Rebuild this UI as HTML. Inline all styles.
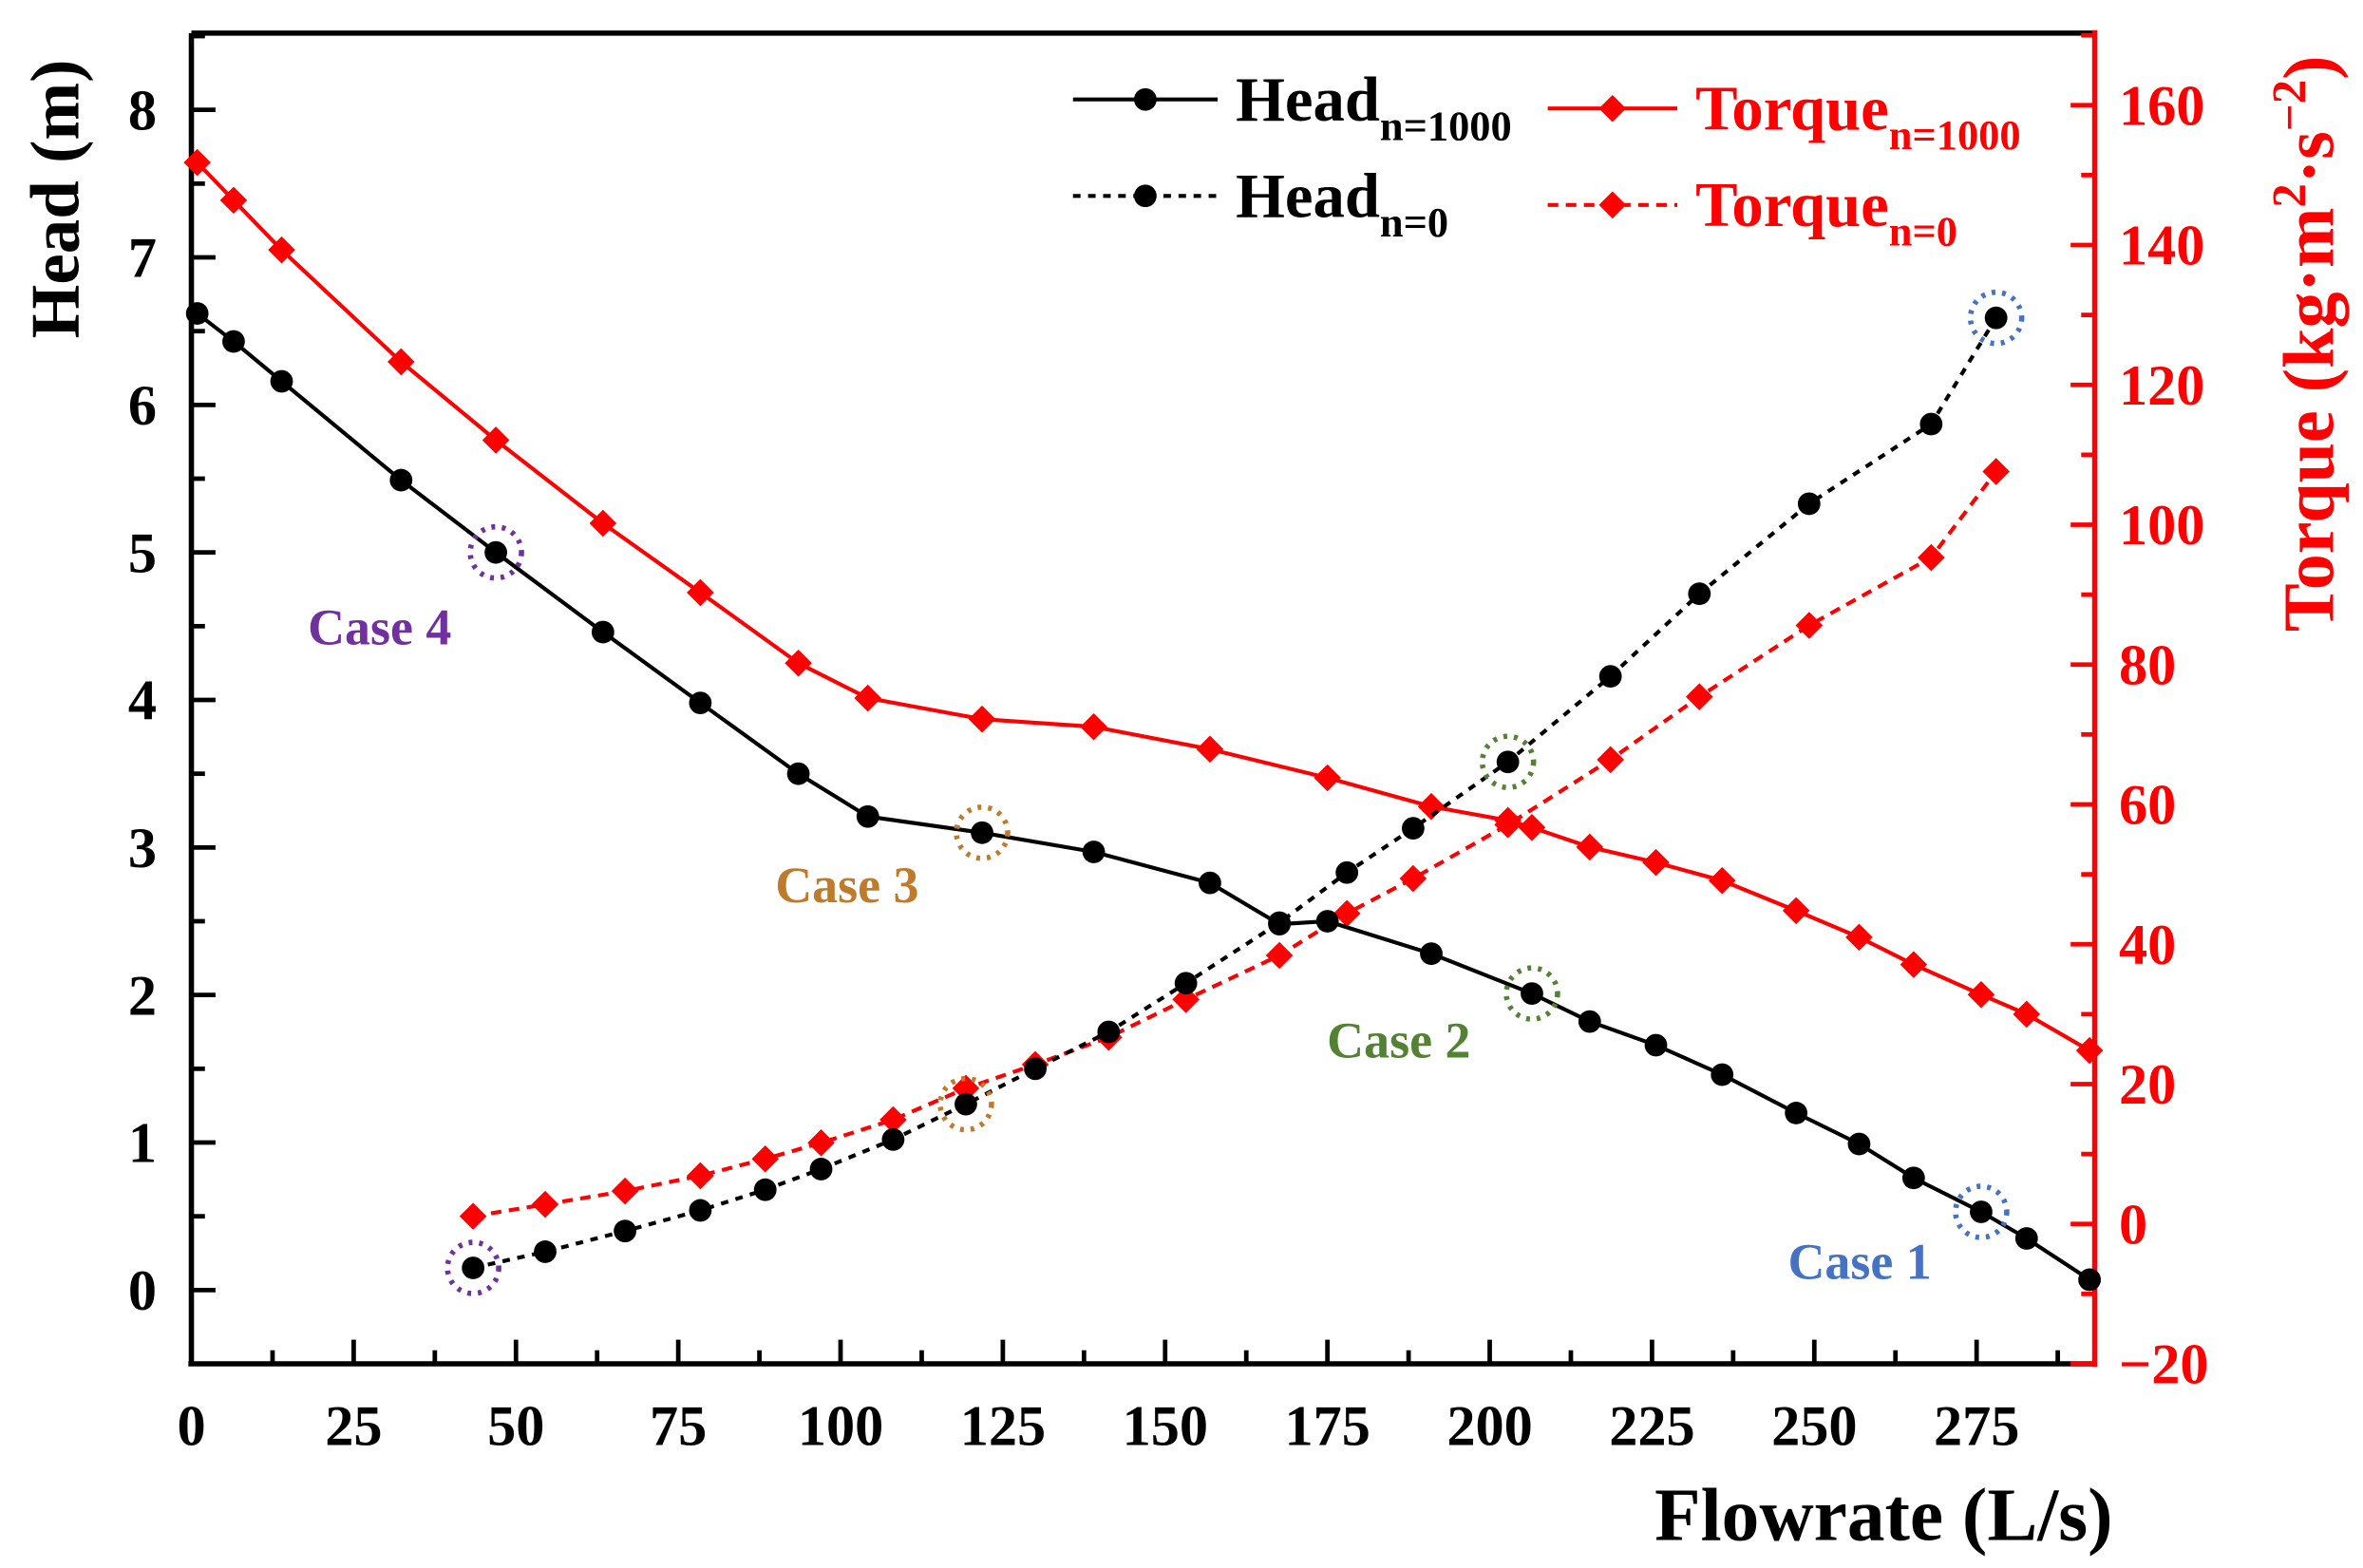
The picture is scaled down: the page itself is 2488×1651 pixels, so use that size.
<!DOCTYPE html>
<html><head><meta charset="utf-8"><style>
html,body{margin:0;padding:0;background:#fff;}
svg{display:block;font-family:"Liberation Serif",serif;font-weight:bold;}
</style></head><body>
<svg id="chart" xmlns="http://www.w3.org/2000/svg" width="2488" height="1651" viewBox="0 0 1568 1040.5">
<rect width="1568" height="1040.5" fill="#fff"/>
<g id="plot"></g>
</svg>
<script>
const headFlow1000 = [0.9,6.5,13.9,32.3,46.9,63.4,78.4,93.5,104.2,121.8,139.0,156.9,167.6,175.0,191.0,206.5,215.4,225.6,235.8,247.2,256.9,265.3,275.7,282.7,292.4];
const head1000 = [6.62,6.43,6.16,5.49,5.00,4.46,3.98,3.50,3.21,3.10,2.97,2.76,2.48,2.50,2.28,2.01,1.82,1.66,1.46,1.20,0.99,0.76,0.53,0.35,0.07];
const headFlow0 = [43.4,54.5,66.8,78.4,88.4,97.0,108.1,119.3,130.0,141.3,153.2,167.6,178.0,188.2,202.8,218.6,232.3,249.2,268.0,278.0];
const head0 = [0.15,0.26,0.40,0.54,0.68,0.82,1.02,1.26,1.50,1.75,2.08,2.49,2.83,3.13,3.58,4.16,4.72,5.33,5.87,6.59];
const torqueFlow1000 = [0.9,6.5,13.9,32.3,46.9,63.4,78.4,93.5,104.2,121.8,139.0,156.9,175.0,191.0,202.8,206.5,215.4,225.6,235.8,247.2,256.9,265.3,275.7,282.7,292.4];
const torque1000 = [151.8,146.4,139.3,123.3,112.1,100.2,90.3,80.2,75.2,72.2,71.1,67.9,63.8,59.7,57.7,56.7,53.9,51.7,49.1,44.8,41.0,37.1,32.8,30.0,24.8];
const torqueFlow0 = headFlow0;
const torque0 = [1.1,2.8,4.7,6.9,9.3,11.6,14.9,19.4,22.8,26.7,32.1,38.4,44.4,49.4,57.1,66.4,75.4,85.6,95.3,107.6];
const xTicks = [0,25,50,75,100,125,150,175,200,225,250,275];
const headTicks = [0,1,2,3,4,5,6,7,8];
const torqueTicks = [-20,0,20,40,60,80,100,120,140,160];
const caseLabels = ["Case 1","Case 2","Case 3","Case 4"];
const caseFlows = [[278.0,275.7],[202.8,206.5],[121.8,119.3],[46.9,43.4]];
const caseHeads = [[6.59,0.53],[3.58,2.01],[3.10,1.26],[5.00,0.15]];
const caseLabelPos = [[257,0.2],[186,1.7],[101,2.75],[29,4.5]];
const caseColors = ["#4472c4","#548235","#c07a2c","#7030a0"];

const L=127,R=1390,T=22,B=905;
const xMin=0,xMax=293.2;
const sx=v=>L+(v-xMin)/(xMax-xMin)*(R-L);
const yHmin=-0.5,yHmax=8.52;
const sh=v=>B-(v-yHmin)/(yHmax-yHmin)*(B-T);
const yTmin=-20,yTmax=170.3;
const st=v=>B-(v-yTmin)/(yTmax-yTmin)*(B-T);

const NS="http://www.w3.org/2000/svg";
const g=document.getElementById('plot');
function el(tag,attrs,parent){const e=document.createElementNS(NS,tag);for(const k in attrs)e.setAttribute(k,attrs[k]);(parent||g).appendChild(e);return e;}

let a;
a=el('line',{x1:L,y1:T,x2:R,y2:T,stroke:'#000','stroke-width':3.5});


a=el('line',{x1:L,y1:T,x2:L,y2:B,stroke:'#000','stroke-width':3.5});


a=el('line',{x1:L-2,y1:B,x2:R,y2:B,stroke:'#000','stroke-width':3.5});


a=el('line',{x1:R,y1:T-2,x2:R,y2:B+2,stroke:'#f00','stroke-width':3.5});



for(let v=0;v<=xMax;v+=12.5){const maj=v%25===0;const t=el('line',{x1:sx(v),x2:sx(v),y1:B,y2:B-(maj?16:9),stroke:'#000','stroke-width':3});

}
xTicks.forEach(v=>{const t=el('text',{x:sx(v),y:B+54,'text-anchor':'middle','font-size':38,fill:'#000'});t.textContent=v;

});
for(let v=-0.5;v<=8.5;v+=0.5){const maj=Math.abs(v-Math.round(v))<1e-6;const t=el('line',{x1:L,x2:L+(maj?16:9),y1:sh(v),y2:sh(v),stroke:'#000','stroke-width':3});

}
headTicks.forEach(v=>{const t=el('text',{x:104,y:sh(v)+13,'text-anchor':'end','font-size':38,fill:'#000'});t.textContent=v;

});
for(let v=-20;v<=170;v+=10){const maj=v%20===0;const t=el('line',{x1:R,x2:R-(maj?16:9),y1:st(v),y2:st(v),stroke:'#f00','stroke-width':3});

}
torqueTicks.forEach(v=>{const t=el('text',{x:1406,y:st(v)+13,'text-anchor':'start','font-size':38,fill:'#f00'});t.textContent=(v<0?'\u221220':v);

});

a=el('text',{x:0,y:0,'font-size':46,fill:'#000','text-anchor':'middle',transform:'translate(52,132) rotate(-90)'});a.textContent='Head (m)';


a=el('text',{x:0,y:0,'font-size':48,fill:'#f00','text-anchor':'middle',transform:'translate(1548,228) rotate(-90)'});
a.innerHTML='Torque (kg·m<tspan dy="-18" font-size="32">2</tspan><tspan dy="18">·s</tspan><tspan dy="-18" font-size="32">−2</tspan><tspan dy="18">)</tspan>';


a=el('text',{x:1402,y:1022,'font-size':50,fill:'#000','text-anchor':'end'});a.textContent='Flowrate (L/s)';



function pts(xs,ys,sy){return xs.map((x,i)=>sx(x)+','+sy(ys[i])).join(' ');}
function series(xs,ys,sy,color,dash,marker,name){
  const p=el('polyline',{points:pts(xs,ys,sy),fill:'none',stroke:color,'stroke-width':2.6,'stroke-dasharray':dash||'none'});
  
  
  xs.forEach((x,i)=>{const cx=sx(x),cy=sy(ys[i]);let m;
    if(marker==='circle'){m=el('circle',{cx:cx,cy:cy,r:7.5,fill:color});}
    else{m=el('polygon',{points:`${cx},${cy-9} ${cx+9},${cy} ${cx},${cy+9} ${cx-9},${cy}`,fill:color});}
    
    });
}
series(torqueFlow1000,torque1000,st,'#f00',null,'diamond','torque-n1000');
series(torqueFlow0,torque0,st,'#f00','7,5','diamond','torque-n0');
series(headFlow1000,head1000,sh,'#000',null,'circle','head-n1000');
series(headFlow0,head0,sh,'#000','5,5','circle','head-n0');

caseLabels.forEach((lab,i)=>{
  caseFlows[i].forEach((f,j)=>{const c=el('circle',{cx:sx(f),cy:sh(caseHeads[i][j]),r:17,fill:'none',stroke:caseColors[i],'stroke-width':3.5,'stroke-dasharray':'2.5,4.5'});
  
  });
  const t=el('text',{x:sx(caseLabelPos[i][0]),y:sh(caseLabelPos[i][1])+12,'font-size':34,fill:caseColors[i],'text-anchor':'middle'});t.textContent=lab;
  
  
});

function legend(x1,x2,y,color,dash,marker,main,sub,name){
  const gg=el('g',{});
  
  
  el('line',{x1:x1,x2:x2,y1:y,y2:y,stroke:color,'stroke-width':2.6,'stroke-dasharray':dash||'none'},gg);
  const cx=(x1+x2)/2;
  if(marker==='circle')el('circle',{cx:cx,cy:y,r:7.5,fill:color},gg);
  else el('polygon',{points:`${cx},${y-9} ${cx+9},${y} ${cx},${y+9} ${cx-9},${y}`,fill:color},gg);
  const t=el('text',{x:x2+12,y:y+14,'font-size':42,fill:color},gg);
  t.innerHTML=main+'<tspan dy="13" font-size="28">'+sub+'</tspan>';
}
legend(712,808,66,'#000',null,'circle','Head','n=1000','legend-head-n1000');
legend(712,808,130,'#000','5,5','circle','Head','n=0','legend-head-n0');
legend(1027,1113,72,'#f00',null,'diamond','Torque','n=1000','legend-torque-n1000');
legend(1027,1113,136,'#f00','7,5','diamond','Torque','n=0','legend-torque-n0');
</script>
</body></html>
